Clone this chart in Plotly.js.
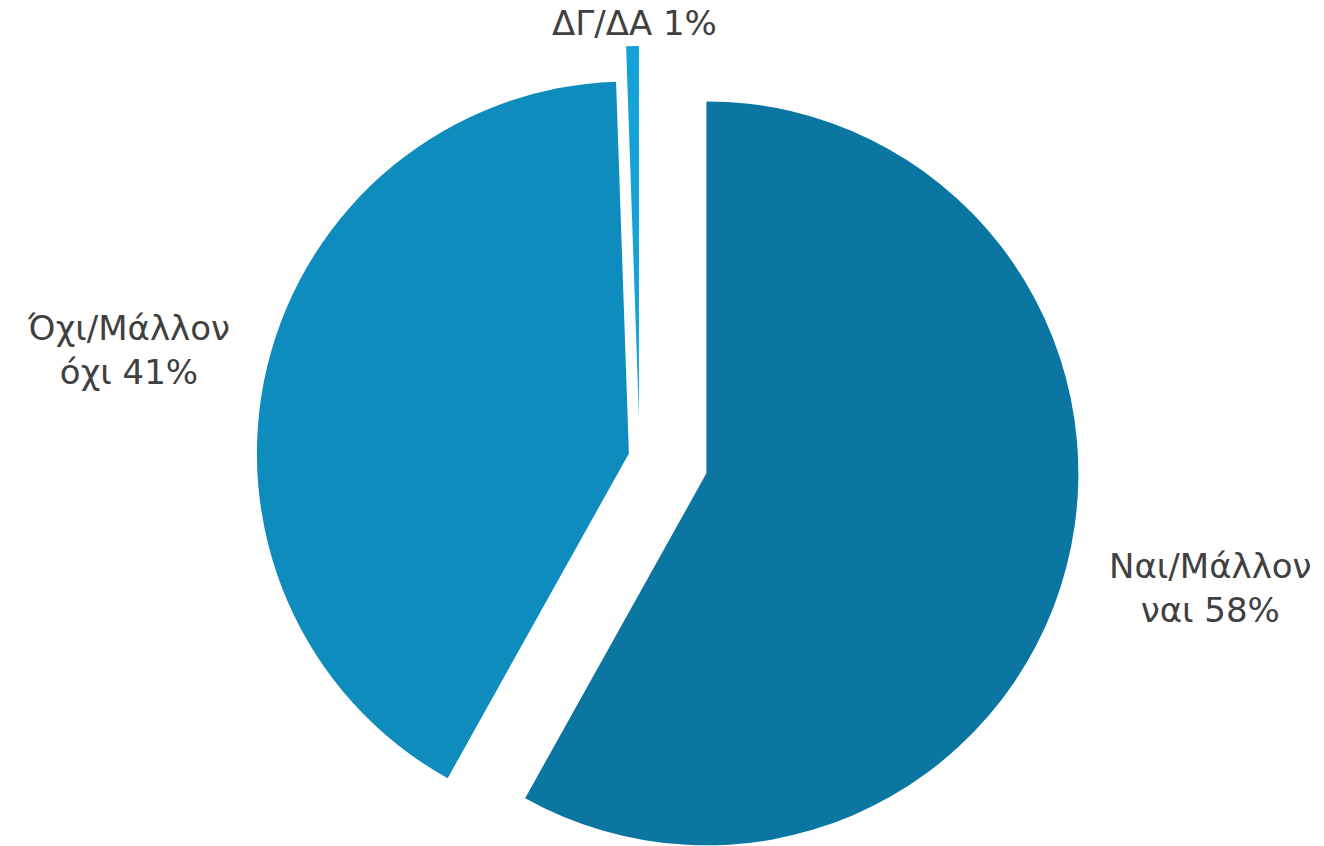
<!DOCTYPE html>
<html><head><meta charset="utf-8">
<script src="https://cdn.plot.ly/plotly-3.0.1.min.js"></script>
<style>
html,body{margin:0;padding:0;overflow:hidden;background:#fff;width:1324px;height:846px}
#chart{position:absolute;left:0;top:0;width:1324px;height:897px}
</style>
</head><body><div id="chart"></div>
<script>
// Data
const categories = ['Ναι/Μάλλον<br>ναι', 'Όχι/Μάλλον<br>όχι', 'ΔΓ/ΔΑ'];
const values = [58.1, 41.35, 0.55];
const sliceColors = ['#0B76A2', '#0E8CBD', '#14A2D8'];
const pulls = [0.1855, 0.0296, 0.102];

// Label placement (viewport px) – style only
const labelPos = [[1210, 588], [128, 350], [634, 23]];
const W = 1324, H = 897, PIE_H = 882;

const total = values.reduce((a, b) => a + b, 0);
const annotations = categories.map((c, i) => ({
  text: c + ' ' + Math.round(values[i] / total * 100) + '%',
  xref: 'paper', yref: 'paper',
  x: labelPos[i][0] / W, y: 1 - labelPos[i][1] / H,
  xanchor: 'center', yanchor: 'middle', align: 'center',
  showarrow: false,
  font: {family: 'DejaVu Sans, sans-serif', size: 34, color: '#404040'}
}));

const trace = {
  type: 'pie',
  labels: categories,
  values: values,
  sort: false,
  direction: 'clockwise',
  rotation: 0,
  pull: pulls,
  marker: {colors: sliceColors, line: {width: 0}},
  textinfo: 'none',
  hoverinfo: 'label+percent',
  domain: {x: [0, 2 * 639.6 / W], y: [0, PIE_H / H]},
  showlegend: false
};

const layout = {
  width: W, height: H,
  margin: {l: 0, r: 0, t: 0, b: 0, pad: 0},
  paper_bgcolor: '#ffffff',
  plot_bgcolor: '#ffffff',
  showlegend: false,
  annotations: annotations
};

Plotly.newPlot('chart', [trace], layout, {displayModeBar: false, staticPlot: true});
</script>
</body></html>
